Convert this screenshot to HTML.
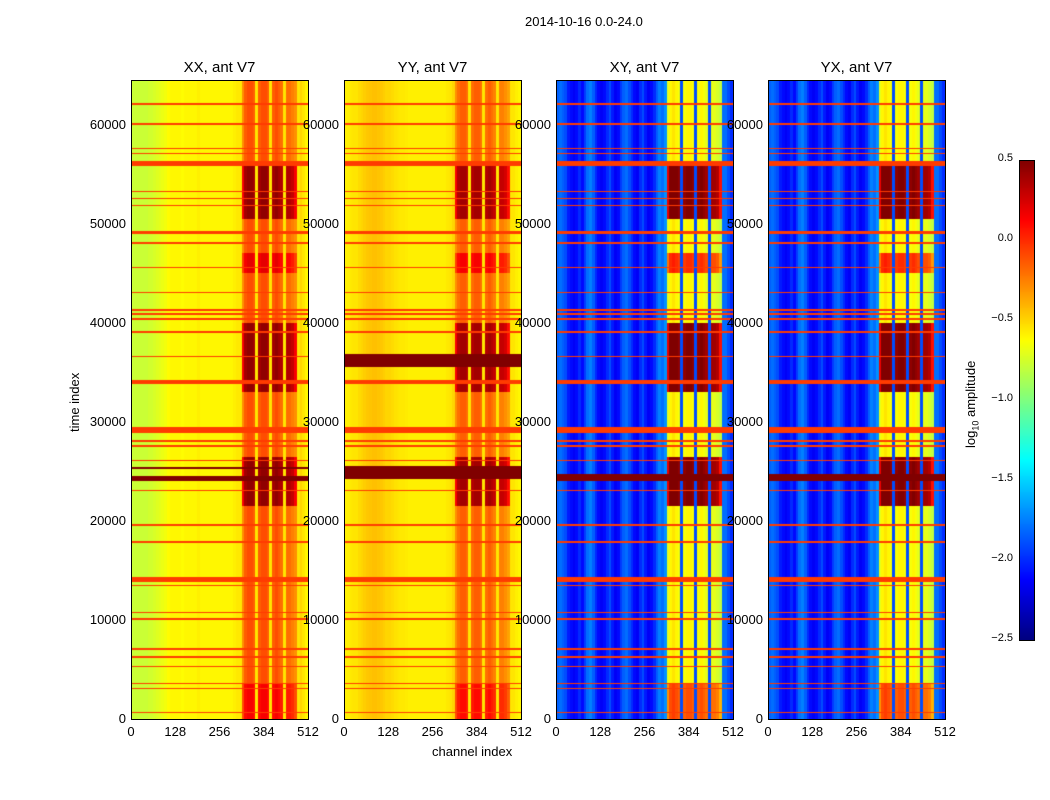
<!DOCTYPE html>
<html><head><meta charset="utf-8">
<style>
body{margin:0;background:#fff;font-family:"Liberation Sans",sans-serif;}
#root{position:relative;width:1050px;height:800px;overflow:hidden;}
.t{position:absolute;font-size:13px;color:#000;white-space:nowrap;}
canvas{position:absolute;}
.frame{position:absolute;border:1px solid #000;box-sizing:border-box;}
</style></head><body>
<div id="root">
<div class="t" style="left:525px;top:14px">2014-10-16 0.0-24.0</div>
<div class="t" style="left:67px;top:432px;transform:rotate(-90deg);transform-origin:0 0">time index</div>
<div class="t" style="left:432px;top:744px">channel index</div>
<div class="t" style="left:963px;top:448px;transform:rotate(-90deg);transform-origin:0 0">log<sub style="font-size:9px">10</sub> amplitude</div>
</div>
<script>
// ---- data ----
const panelTitles=["XX, ant V7","YY, ant V7","XY, ant V7","YX, ant V7"];
const xTicks=[0,128,256,384,512];
const yTicks=[0,10000,20000,30000,40000,50000,60000];
const cbTicks=[0.5,0.0,-0.5,-1.0,-1.5,-2.0,-2.5];
// channel profiles, 64 bins of 8 channels
const profXX=[-0.78,-0.78,-0.78,-0.78,-0.78,-0.78,-0.76,-0.76,-0.74,-0.72,-0.7,-0.68,-0.66,-0.62,-0.6,-0.6,-0.6,-0.6,-0.62,-0.6,-0.6,-0.6,-0.6,-0.6,-0.58,-0.6,-0.6,-0.6,-0.6,-0.6,-0.6,-0.6,-0.6,-0.6,-0.6,-0.6,-0.6,-0.58,-0.56,-0.56,-0.3,-0.15,-0.1,-0.1,-0.15,-0.55,-0.15,-0.1,-0.1,-0.15,-0.55,-0.15,-0.1,-0.15,-0.2,-0.55,-0.2,-0.2,-0.25,-0.3,-0.55,-0.5,-0.55,-0.6];
const profYY=[-0.58,-0.58,-0.56,-0.55,-0.55,-0.52,-0.5,-0.48,-0.46,-0.45,-0.44,-0.44,-0.45,-0.46,-0.48,-0.5,-0.5,-0.52,-0.54,-0.55,-0.56,-0.56,-0.57,-0.58,-0.58,-0.58,-0.58,-0.58,-0.58,-0.58,-0.58,-0.58,-0.58,-0.58,-0.58,-0.58,-0.58,-0.56,-0.55,-0.5,-0.3,-0.2,-0.15,-0.15,-0.2,-0.55,-0.2,-0.15,-0.15,-0.2,-0.55,-0.2,-0.15,-0.2,-0.25,-0.55,-0.25,-0.25,-0.3,-0.35,-0.55,-0.55,-0.58,-0.6];
const profXY=[-1.85,-1.8,-1.85,-1.9,-2.05,-2.1,-2.15,-2.1,-2.0,-2.1,-1.95,-1.8,-1.75,-1.85,-2.0,-2.1,-2.15,-2.1,-2.0,-1.9,-2.05,-2.15,-2.1,-1.95,-1.85,-1.8,-1.9,-2.0,-2.1,-2.15,-2.0,-1.9,-2.05,-2.15,-2.1,-2.0,-1.85,-1.75,-1.8,-1.7,-0.7,-0.6,-0.55,-0.6,-0.65,-1.9,-0.65,-0.6,-0.6,-0.65,-1.9,-0.65,-0.6,-0.65,-0.7,-1.9,-0.7,-0.7,-0.75,-0.8,-1.8,-1.8,-1.9,-2.0];
const profYX=profXY.slice();
// RFI channel mask (1 = strongly affected)
const rfiMask=[0,0,0,0,0,0,0,0,0,0,0,0,0,0,0,0,0,0,0,0,0,0,0,0,0,0,0,0,0,0,0,0,0,0,0,0,0,0,0,0,0.8,1,1,1,1,0,1,1,1,1,0,1,1,1,1,0,1,1,1,0.8,0,0,0,0];
// time segments of RFI boost [start,end,boost]
const rfiT0=[50500,33000,21500,45000,0];
const rfiT1=[55800,40000,26500,47000,3500];
const rfiBoost=[0.55,0.55,0.55,0.3,0.25];
const boostScale=[1,1,2,2];
// flagged rows [start,end]
const flagT0=[62000,60000,57500,57000,55800,53200,52500,51800,49000,48000,45500,43000,41200,40800,40300,39000,36500,33800,28900,28000,27500,26000,23000,19500,17800,13800,13400,10700,10000,7000,6200,5200,3500,3000,600];
const flagT1=[62150,60150,57650,57150,56300,53320,52620,51920,49300,48150,45650,43150,41350,40950,40450,39150,36650,34200,29500,28150,27650,26150,23150,19650,17950,14300,13550,10850,10150,7150,6350,5350,3650,3150,750];
const flagVal=-0.05;
// strong saturated bands per panel [start,end]
const hotXX0=[24000,25200],hotXX1=[24500,25400];
const hotYY0=[35500,24200],hotYY1=[36800,25500];
const hotXY0=[24000],hotXY1=[24700];
const hotVal=0.6;
const tMax=64512,nChan=512;

// ---- render ----
const root=document.getElementById('root');
function jet(v){let x=(v+2.5)/3;x=Math.max(0,Math.min(1,x));
 const r=Math.max(0,Math.min(1,1.5-Math.abs(4*x-3))),g=Math.max(0,Math.min(1,1.5-Math.abs(4*x-2))),b=Math.max(0,Math.min(1,1.5-Math.abs(4*x-1)));
 return [r*255,g*255,b*255];}
const panels=[{x:131,prof:profXX,h0:hotXX0,h1:hotXX1},{x:344,prof:profYY,h0:hotYY0,h1:hotYY1},{x:556,prof:profXY,h0:hotXY0,h1:hotXY1},{x:768,prof:profYX,h0:hotXY0,h1:hotXY1}];
const PY=80,PW=177,PH=639;
const xs=ch=>ch/nChan*PW, ys=t=>PH-t/tMax*PH;
function add(tag,cls,style,text){const e=document.createElement(tag);if(cls)e.className=cls;e.style.cssText=style;if(text!==undefined)e.textContent=text;root.appendChild(e);return e;}
panels.forEach((p,pi)=>{
 const c=add('canvas','',`left:${p.x}px;top:${PY}px`);c.width=PW;c.height=PH;
 
 
 const ctx=c.getContext('2d');const img=ctx.createImageData(PW,PH);
 for(let py=0;py<PH;py++){
  const t=(PH-py-0.5)/PH*tMax;
  let boost=0;for(let k=0;k<rfiT0.length;k++)if(t>=rfiT0[k]&&t<rfiT1[k])boost=Math.max(boost,rfiBoost[k]);
  boost*=boostScale[pi];
  let flag=false;for(let k=0;k<flagT0.length;k++)if(t>=flagT0[k]&&t<flagT1[k])flag=true;
  let hot=false;for(let k=0;k<p.h0.length;k++)if(t>=p.h0[k]&&t<p.h1[k])hot=true;
  for(let px=0;px<PW;px++){
   const bin=Math.min(63,Math.floor((px+0.5)/PW*64));
   let v=p.prof[bin]+boost*rfiMask[bin];
   if(flag)v=flagVal; if(hot)v=hotVal;
   const [r,g,b]=jet(v);const i=(py*PW+px)*4;img.data[i]=r;img.data[i+1]=g;img.data[i+2]=b;img.data[i+3]=255;}
 }
 ctx.putImageData(img,0,0);
 const f=add('div','frame',`left:${p.x}px;top:${PY}px;width:${PW+1}px;height:${PH+1}px`);
 
 
 const tt=add('div','t',`left:${p.x}px;width:${PW}px;text-align:center;top:59px;font-size:15px`,panelTitles[pi]);
 
 
 xTicks.forEach(v=>{const l=add('div','t',`left:${p.x+xs(v)-20}px;width:40px;text-align:center;top:724px`,String(v));
  
  });
 yTicks.forEach(v=>{const l=add('div','t',`left:${p.x-65}px;width:60px;text-align:right;top:${PY+ys(v)-8}px`,String(v));
  
  });
});
// colorbar
const CBX=1019,CBY=160,CBW=15,CBH=480;
const cb=add('canvas','',`left:${CBX}px;top:${CBY}px`);cb.width=CBW;cb.height=CBH;


const cctx=cb.getContext('2d');
for(let y=0;y<CBH;y++){const v=0.5-(y+0.5)/CBH*3;const [r,g,b]=jet(v);cctx.fillStyle=`rgb(${r|0},${g|0},${b|0})`;cctx.fillRect(0,y,CBW,1);}
const cbf=add('div','frame',`left:${CBX}px;top:${CBY}px;width:${CBW+1}px;height:${CBH+1}px`);


cbTicks.forEach(v=>{const y=CBY+(0.5-v)/3*CBH;const l=add('div','t',`left:${CBX-50}px;width:44px;text-align:right;top:${y-8}px;font-size:11px`,(v<0?'\u2212':'')+Math.abs(v).toFixed(1));
 
 });
</script>
</body></html>
